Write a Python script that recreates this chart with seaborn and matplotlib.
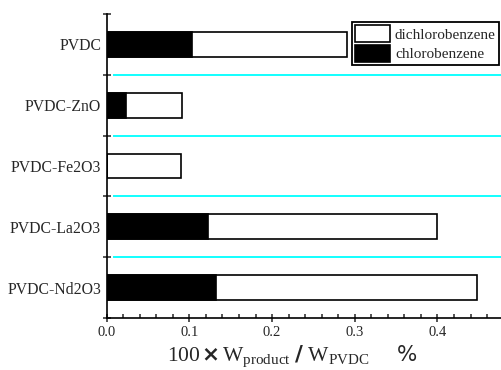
import matplotlib
matplotlib.use("Agg")
import matplotlib.pyplot as plt
from matplotlib.patches import Patch
from matplotlib.ticker import MultipleLocator, FixedLocator
import seaborn as sns

# data
samples = ["PVDC", "PVDC-ZnO", "PVDC-Fe2O3", "PVDC-La2O3", "PVDC-Nd2O3"]
chlorobenzene = [0.103, 0.023, 0.0, 0.123, 0.132]
dichlorobenzene = [0.188, 0.068, 0.090, 0.277, 0.316]
totals = [c + d for c, d in zip(chlorobenzene, dichlorobenzene)]

sns.set_style("ticks")
plt.rcParams["font.family"] = ["Liberation Serif", "DejaVu Sans"]
plt.rcParams["mathtext.fontset"] = "custom"
plt.rcParams["mathtext.rm"] = "Liberation Serif"
plt.rcParams["mathtext.it"] = "Liberation Serif:italic"
plt.rcParams["mathtext.bf"] = "DejaVu Sans:bold"

fig = plt.figure(figsize=(5.02, 3.70), dpi=100)
ax = fig.add_axes([0.2125, 0.1405, 0.7875, 0.8217])

# stacked: white totals underneath, black chlorobenzene on top
sns.barplot(x=totals, y=samples, color="white", edgecolor="black",
            linewidth=1.2, width=0.41, orient="h", ax=ax, saturation=1)
sns.barplot(x=chlorobenzene, y=samples, color="black", edgecolor="black",
            linewidth=1.2, width=0.41, orient="h", ax=ax, saturation=1)

xmax = 0.478
ax.set_xlim(0, xmax)
ax.set_ylim(4.5, -0.5)

# cyan separators between groups
ax.hlines([0.5, 1.5, 2.5, 3.5], 0.008, xmax, colors="#00FFFF", linewidth=1.3, zorder=0)

ax.xaxis.set_major_locator(MultipleLocator(0.1))
ax.xaxis.set_minor_locator(MultipleLocator(0.02))
ax.xaxis.set_major_formatter(matplotlib.ticker.FormatStrFormatter("%.1f"))
ax.yaxis.set_minor_locator(FixedLocator([-0.5, 0.5, 1.5, 2.5, 3.5, 4.5]))

ax.tick_params(axis="x", which="major", direction="inout", length=6, width=1.1,
               labelsize=10.5, pad=3)
ax.tick_params(axis="x", which="minor", direction="in", length=3, width=1.1)
ax.tick_params(axis="y", which="major", length=0, labelsize=11.3, pad=4)
ax.tick_params(axis="y", which="minor", direction="inout", length=6, width=1.1)

sns.despine(ax=ax, top=True, right=True)
for s in ["left", "bottom"]:
    ax.spines[s].set_linewidth(1.2)
    ax.spines[s].set_color("black")

ax.set_xlabel("")
ax.set_ylabel("")

ax.text(0.153, -0.143,
        r"$\mathrm{100}\,\mathbf{\times}\,\mathrm{W}_{\mathrm{product}}\ \mathbf{/}\ \mathrm{W}_{\mathrm{PVDC}}$    %",
        transform=ax.transAxes, ha="left", va="baseline", fontsize=15.5,
        family=["DejaVu Sans"])

handles = [Patch(facecolor="white", edgecolor="black", linewidth=1.2, label="dichlorobenzene"),
           Patch(facecolor="black", edgecolor="black", linewidth=1.2, label="chlorobenzene")]
leg = ax.legend(handles=handles, loc="upper right", bbox_to_anchor=(0.992, 0.975),
                fancybox=False, framealpha=1, edgecolor="black", fontsize=11,
                borderpad=0.2, labelspacing=0.15, handlelength=2.3, handleheight=1.4,
                handletextpad=0.3, borderaxespad=0)
leg.get_frame().set_linewidth(1.3)

fig.savefig("out.png", dpi=100)
